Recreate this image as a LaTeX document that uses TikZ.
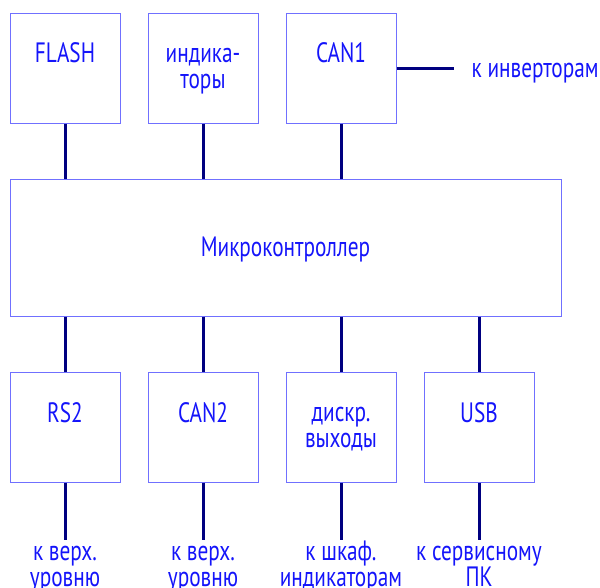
\documentclass[tikz,border=0pt]{standalone}
\usepackage{fontspec}
\setmainfont[FakeStretch=0.76]{PT Sans}
\usetikzlibrary{positioning}

\definecolor{txtblue}{RGB}{20,20,250}
\definecolor{boxblue}{RGB}{112,112,255}
\definecolor{wirenavy}{RGB}{0,0,128}

\begin{document}
\begin{tikzpicture}[x=1pt,y=-1pt,node distance=27pt,
    box/.style={draw=boxblue,line width=1pt,minimum width=110pt,minimum height=110pt,inner sep=0pt},
    lbl/.style={text=txtblue,font=\fontsize{28}{26}\selectfont,align=center,inner sep=0pt},
    wire/.style={draw=wirenavy,line width=3pt}]

    \useasboundingbox (0,0) rectangle (600,587);

    % upper row
    \node[box] (flash) at (65,68) {};
    \node[box, right=of flash] (ind) {};
    \node[box, right=of ind] (can1) {};

    % main block
    \node[box, anchor=north west, minimum width=551pt, minimum height=137pt] (mcu) at ([yshift=-55pt]flash.south west) {};

    % lower row
    \node[box, anchor=north west] (rs2) at ([yshift=-55pt]mcu.south west) {};
    \node[box, right=of rs2] (can2) {};
    \node[box, right=of can2] (dout) {};
    \node[box, right=of dout] (usb) {};

    % texts (base of a two-line label is its last line)
    \node[lbl, anchor=base] at ([yshift=-50pt]flash.north) {FLASH};
    \node[lbl, anchor=base] at ([yshift=-76pt]ind.north) {индика-\\торы};
    \node[lbl, anchor=base] at ([yshift=-50pt]can1.north) {CAN1};
    \node[lbl, anchor=base] at ([yshift=-9pt]mcu.center) {Микроконтроллер};
    \node[lbl, anchor=base] at ([yshift=-51pt]rs2.north) {RS2};
    \node[lbl, anchor=base] at ([yshift=-51pt]can2.north) {CAN2};
    \node[lbl, anchor=base] at ([yshift=-76pt]dout.north) {дискр.\\выходы};
    \node[lbl, anchor=base] at ([yshift=-51pt]usb.north) {USB};

    % links to the main block
    \foreach \b in {flash,ind,can1}
        \draw[wire] (\b.south) -- (\b.south |- mcu.north);
    \foreach \b in {rs2,can2,dout,usb}
        \draw[wire] (\b.north |- mcu.south) -- (\b.north);

    % outer links
    \coordinate (invend) at ([xshift=57pt]can1.east);
    \draw[wire] (can1.east) -- (invend);
    \node[lbl, anchor=base west] (inv) at ([xshift=18pt,yshift=-9pt]invend) {к инверторам};

    \foreach \b/\t in {rs2/{к верх.\\уровню},can2/{к верх.\\уровню},dout/{к шкаф.\\индикаторам},usb/{к сервисному\\ПК}}{
        \coordinate (\b end) at ([yshift=-57pt]\b.south);
        \draw[wire] (\b.south) -- (\b end);
        \node[lbl, anchor=base] at ([yshift=-47pt]\b end) {\t};
    }
\end{tikzpicture}
\end{document}
